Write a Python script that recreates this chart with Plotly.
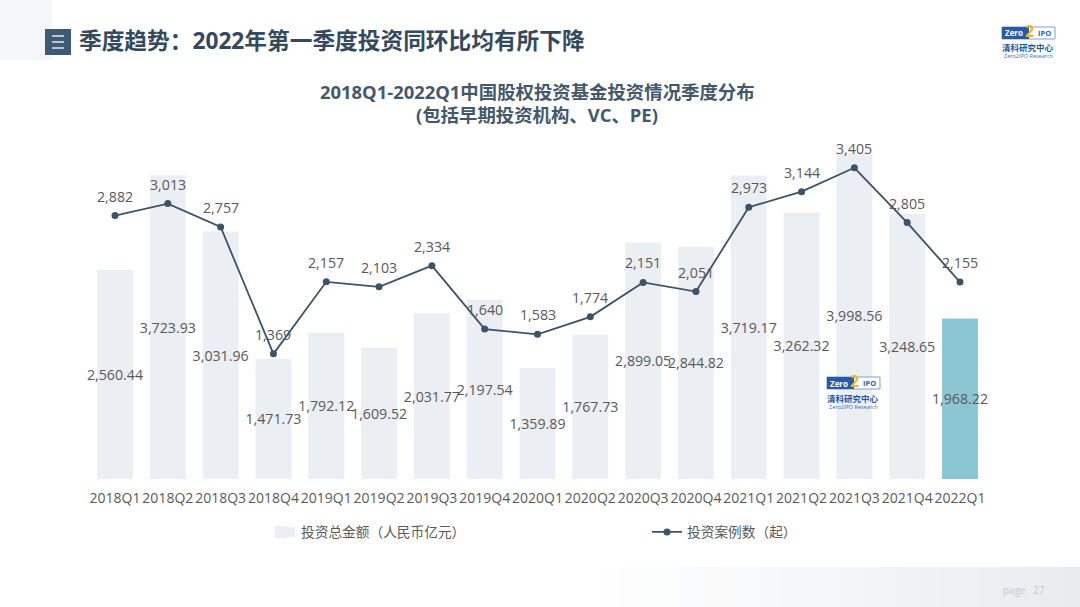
import plotly.graph_objects as go

categories = ["2018Q1","2018Q2","2018Q3","2018Q4","2019Q1","2019Q2","2019Q3","2019Q4","2020Q1","2020Q2","2020Q3","2020Q4","2021Q1","2021Q2","2021Q3","2021Q4","2022Q1"]
amounts = [2560.44,3723.93,3031.96,1471.73,1792.12,1609.52,2031.77,2197.54,1359.89,1767.73,2899.05,2844.82,3719.17,3262.32,3998.56,3248.65,1968.22]
cases = [2882,3013,2757,1369,2157,2103,2334,1640,1583,1774,2151,2051,2973,3144,3405,2805,2155]
bar_colors = ["#ebeff3"]*16 + ["#8cc6d3"]

W, H = 1080, 607
FONT = "Open Sans, Noto Sans CJK SC, sans-serif"
DARK = "#3d5368"
TXT = "#595959"
NUM = 14.2

def px(x): return x / W
def py(y): return 1 - y / H

fig = go.Figure()
fig.add_bar(x=categories, y=amounts, name="投资总金额（人民币亿元）", marker=dict(color=bar_colors, line_width=0),
            width=0.68, text=[f"{v:,.2f}" for v in amounts], textposition="inside", insidetextanchor="middle",
            textangle=0, constraintext="none", textfont=dict(size=NUM, color=TXT), cliponaxis=False)
fig.add_scatter(x=categories, y=cases, name="投资案例数（起）", yaxis="y2", mode="lines+markers",
                line=dict(color=DARK, width=1.8), marker=dict(color=DARK, size=7))

ann = []
for c, v in zip(categories, cases):
    ann.append(dict(x=c, y=v, xref="x", yref="y2", text=f"{v:,}", showarrow=False, yshift=19.5,
                    font=dict(size=NUM, color=TXT, family=FONT)))

def text(x, y, s, size, color, bold=False, anchor="left"):
    ann.append(dict(x=px(x), y=py(y), xref="paper", yref="paper", text=f"<b>{s}</b>" if bold else s, showarrow=False,
                    xanchor=anchor, yanchor="middle", font=dict(size=size, color=color, family=FONT)))

text(77, 41, "季度趋势：2022年第一季度投资同环比均有所下降", 22.7, "#34495e", True)
text(537, 91, "2018Q1-2022Q1中国股权投资基金投资情况季度分布", 18.4, "#44586c", True, "center")
text(537, 114, "(包括早期投资机构、VC、PE)", 18.4, "#44586c", True, "center")
text(1001, 590, "page", 10, "#c4c8cc")
text(1031, 590, "27", 10, "#c4c8cc")

def logo(x0, y0):
    # x0, y0 = top-left of the blue badge
    text(x0 + 26, y0 + 21, "清科研究中心", 8.5, "#1f5aa6", True, "center")
    text(x0 + 26, y0 + 29.5, "Zero2IPO Research", 5.5, "#3f6fb5", False, "center")
    text(x0 + 12, y0 + 6, "Zero", 8, "#ffffff", True, "center")
    text(x0 + 27, y0 + 4, "2", 16, "#f0b429", True, "center")
    text(x0 + 42, y0 + 6, "IPO", 7.5, "#2f5fa8", True, "center")
    return [
        dict(type="rect", xref="paper", yref="paper", x0=px(x0), x1=px(x0+53), y0=py(y0+12), y1=py(y0),
             line=dict(color="#7f9fcf", width=1), fillcolor="#ffffff", layer="above"),
        dict(type="rect", xref="paper", yref="paper", x0=px(x0), x1=px(x0+27), y0=py(y0+12), y1=py(y0),
             line_width=0, fillcolor="#2a5aa5", layer="above"),
    ]

shapes = [
    dict(type="rect", xref="paper", yref="paper", x0=0, x1=px(52), y0=py(60), y1=1, fillcolor="#f4f6f8", line_width=0, layer="below"),
    dict(type="rect", xref="paper", yref="paper", x0=px(45), x1=px(71), y0=py(55), y1=py(29), fillcolor="#3f5a75", line_width=0, layer="below"),
    # wider legend swatch as in the reference
    dict(type="rect", xref="paper", yref="paper", x0=px(277), x1=px(295), y0=py(537), y1=py(527), fillcolor="#ebeff3", line_width=0, layer="below"),
]
for yy in (36, 42, 48):
    shapes.append(dict(type="line", xref="paper", yref="paper", x0=px(52), x1=px(64), y0=py(yy), y1=py(yy),
                       line=dict(color="#ffffff", width=1.3)))
# bottom band, fading in from the left
steps = 24
for i in range(steps):
    t = (i + 1) / steps
    c = (255 - 22*t, 255 - 19*t, 255 - 16*t)
    shapes.append(dict(type="rect", xref="paper", yref="paper", x0=px(600 + i*20), x1=px(600 + (i+1)*20), y0=0, y1=py(567),
                       fillcolor=f"rgb({c[0]:.0f},{c[1]:.0f},{c[2]:.0f})", line_width=0, layer="below"))
shapes += logo(1002, 27)
shapes += logo(827, 377)

fig.update_layout(
    width=W, height=H, margin=dict(l=0, r=0, t=0, b=0, autoexpand=False), paper_bgcolor="#ffffff", plot_bgcolor="rgba(0,0,0,0)",
    font=dict(family=FONT, color=TXT, size=13), showlegend=True,
    xaxis=dict(domain=[px(88.6), px(986.4)], type="category", range=[-0.5, 16.5], showgrid=False, showline=False, automargin=False,
               tickangle=0, ticks="outside", ticklen=6, tickcolor="rgba(0,0,0,0)", tickfont=dict(size=14, color=TXT), anchor="y"),
    yaxis=dict(domain=[py(479), py(152.6)], range=[0, 4000], visible=False),
    yaxis2=dict(domain=[py(479), py(152.6)], range=[0, 3571], visible=False, overlaying="y"),
    legend=dict(orientation="h", x=px(261), y=py(532), yanchor="middle", xanchor="left", entrywidth=341, entrywidthmode="pixels",
                font=dict(size=13.7, color=TXT), bgcolor="rgba(0,0,0,0)"),
    annotations=ann, shapes=shapes,
)
fig.write_html("out.html", config=dict(displayModeBar=False), post_script="document.body.style.margin='0';")
